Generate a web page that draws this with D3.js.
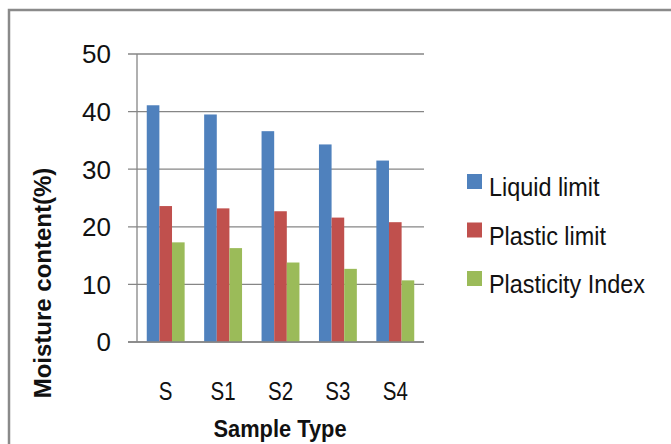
<!DOCTYPE html>
<html>
<head>
<meta charset="utf-8">
<script src="https://cdn.jsdelivr.net/npm/d3@7"></script>
<style>
  html, body { margin: 0; padding: 0; background: #fff; }
  svg { display: block; }
</style>
</head>
<body>
<div id="chart"></div>
<script>
// datos
const samples = ["S", "S1", "S2", "S3", "S4"];
const seriesNames = ["Liquid limit", "Plastic limit", "Plasticity Index"];
const liquidLimit = [41.1, 39.5, 36.6, 34.3, 31.5];
const plasticLimit = [23.6, 23.2, 22.7, 21.6, 20.8];
const plasticityIndex = [17.3, 16.3, 13.8, 12.7, 10.7];
const yTicks = [0, 10, 20, 30, 40, 50];
const colors = ["#4F81BD", "#C0504D", "#9BBB59"];

const values = [liquidLimit, plasticLimit, plasticityIndex];

const width = 671, height = 444;
const svg = d3.select("#chart").append("svg")
  .attr("width", width)
  .attr("height", height);

const font = "'Liberation Sans', Arial, sans-serif";

// marco exterior
svg.append("path")
  .attr("d", `M9,${height + 5} L9,10 L${width + 5},10`)
  .attr("fill", "none")
  .attr("stroke", "#8a8a8a")
  .attr("stroke-width", 2.5);

const plot = { left: 137, right: 424, top: 54, bottom: 342 };

const x = d3.scaleBand()
  .domain(samples)
  .range([plot.left, plot.right])
  .paddingInner(0.34)
  .paddingOuter(0.17);

const x1 = d3.scaleBand()
  .domain(seriesNames)
  .range([0, x.bandwidth()]);

const y = d3.scaleLinear()
  .domain([0, 50])
  .range([plot.bottom, plot.top]);

// rejilla
svg.append("g")
  .selectAll("line")
  .data(yTicks)
  .join("line")
  .attr("x1", plot.left - 9)
  .attr("x2", plot.right)
  .attr("y1", d => y(d))
  .attr("y2", d => y(d))
  .attr("stroke", "#868686")
  .attr("stroke-width", 1.3);

// eje vertical
svg.append("line")
  .attr("x1", plot.left).attr("x2", plot.left)
  .attr("y1", plot.top).attr("y2", plot.bottom)
  .attr("stroke", "#868686")
  .attr("stroke-width", 1.3);

// barras
const groups = svg.append("g")
  .selectAll("g")
  .data(samples)
  .join("g")
  .attr("transform", d => `translate(${x(d)},0)`);

groups.selectAll("rect")
  .data((d, i) => seriesNames.map((s, k) => ({ s, k, v: values[k][i] })))
  .join("rect")
  .attr("x", d => x1(d.s))
  .attr("width", x1.bandwidth())
  .attr("y", d => y(d.v))
  .attr("height", d => y(0) - y(d.v))
  .attr("fill", d => colors[d.k]);

// linea base encima
svg.append("line")
  .attr("x1", plot.left - 9).attr("x2", plot.right)
  .attr("y1", y(0)).attr("y2", y(0))
  .attr("stroke", "#868686")
  .attr("stroke-width", 1.3);

// etiquetas eje y
svg.append("g")
  .selectAll("text")
  .data(yTicks)
  .join("text")
  .attr("x", 111)
  .attr("y", d => y(d))
  .attr("dy", "0.36em")
  .attr("text-anchor", "end")
  .style("font-family", font)
  .style("font-size", "26px")
  .style("fill", "#111")
  .text(d => d);

// etiquetas categorias (estrechadas)
svg.append("g")
  .selectAll("text")
  .data(samples)
  .join("text")
  .attr("transform", d => `translate(${x(d) + x.bandwidth() / 2},400) scale(0.82,1)`)
  .attr("text-anchor", "middle")
  .style("font-family", font)
  .style("font-size", "25px")
  .style("fill", "#111")
  .text(d => d);

// titulos de ejes
svg.append("text")
  .attr("transform", "translate(280,437) scale(0.95,1)")
  .attr("text-anchor", "middle")
  .style("font-family", font)
  .style("font-weight", "bold")
  .style("font-size", "23px")
  .style("fill", "#111")
  .text("Sample Type");

svg.append("text")
  .attr("transform", "translate(51,283) rotate(-90)")
  .attr("text-anchor", "middle")
  .style("font-family", font)
  .style("font-weight", "bold")
  .style("font-size", "24px")
  .style("fill", "#111")
  .text("Moisture content(%)");

// leyenda
const legend = svg.append("g")
  .selectAll("g")
  .data(seriesNames)
  .join("g")
  .attr("transform", (d, i) => `translate(467,${174 + i * 48.5})`);

legend.append("rect")
  .attr("width", 15)
  .attr("height", 15)
  .attr("fill", (d, i) => colors[i]);

legend.append("text")
  .attr("transform", "translate(22,22) scale(0.9,1)")
  .style("font-family", font)
  .style("font-size", "26px")
  .style("fill", "#111")
  .text(d => d);
</script>
</body>
</html>
